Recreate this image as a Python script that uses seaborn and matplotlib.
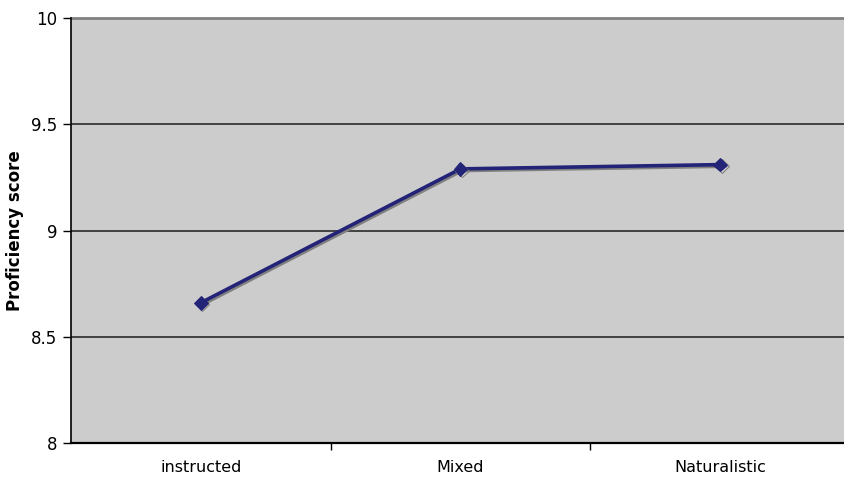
import matplotlib
matplotlib.use("Agg")
import matplotlib.pyplot as plt
import matplotlib.patheffects as pe
import seaborn as sns
import pandas as pd

categories = ["instructed", "Mixed", "Naturalistic"]
scores = [8.66, 9.29, 9.31]
yticks = [8, 8.5, 9, 9.5, 10]
ytick_labels = ["8", "8.5", "9", "9.5", "10"]

sns.set_style("white")
plt.rcParams['font.family'] = ['DejaVu Sans']
plt.rcParams['text.color'] = 'black'
plt.rcParams['xtick.color'] = 'black'
plt.rcParams['ytick.color'] = 'black'
plt.rcParams['axes.labelcolor'] = 'black'

df = pd.DataFrame({"cat": categories, "score": scores})
df["pos"] = range(len(categories))

fig = plt.figure(figsize=(8.44, 4.79), dpi=100)
ax = fig.add_axes([71/844, 1-443/479, (850-71)/844, (443-18)/479])
ax.set_facecolor("#CCCCCC")

for y in yticks[1:-1]:
    ax.axhline(y, color="#2a2a2a", lw=1.2, zorder=1)
ax.axhline(10, color="#808080", lw=2, zorder=1, clip_on=False)

sns.lineplot(data=df, x="pos", y="score", ax=ax, sort=False, color="#232378",
             lw=2.6, marker="D", markersize=7, markeredgecolor="#232378",
             zorder=3,
             path_effects=[pe.SimpleLineShadow(offset=(1.2, -1.2), shadow_color="#808080", alpha=1.0),
                           pe.Normal()])

ax.set_xlim(-0.5, 2.5)
ax.set_ylim(8, 10)
ax.set_yticks(yticks)
ax.set_yticklabels(ytick_labels, fontsize=12)
ax.set_xticks(range(len(categories)))
ax.set_xticklabels(categories, fontsize=11.5)
ax.set_xticks([0.5, 1.5], minor=True)
ax.tick_params(axis="x", which="major", length=0, pad=12)
ax.tick_params(axis="x", which="minor", length=5, width=1, color="black", direction="out", bottom=True)
ax.tick_params(axis="y", which="major", length=6, width=1, color="black", direction="out", left=True, pad=4)
ax.set_xlabel("")
ax.set_ylabel("Proficiency score", fontsize=12, fontweight="bold")
ax.yaxis.set_label_coords(-(71-24)/779, 0.5)

for s in ["top", "right"]:
    ax.spines[s].set_visible(False)
ax.spines["left"].set_color("black")
ax.spines["left"].set_linewidth(1.2)
ax.spines["bottom"].set_color("black")
ax.spines["bottom"].set_linewidth(1.6)

fig.savefig("out.png", dpi=100)
